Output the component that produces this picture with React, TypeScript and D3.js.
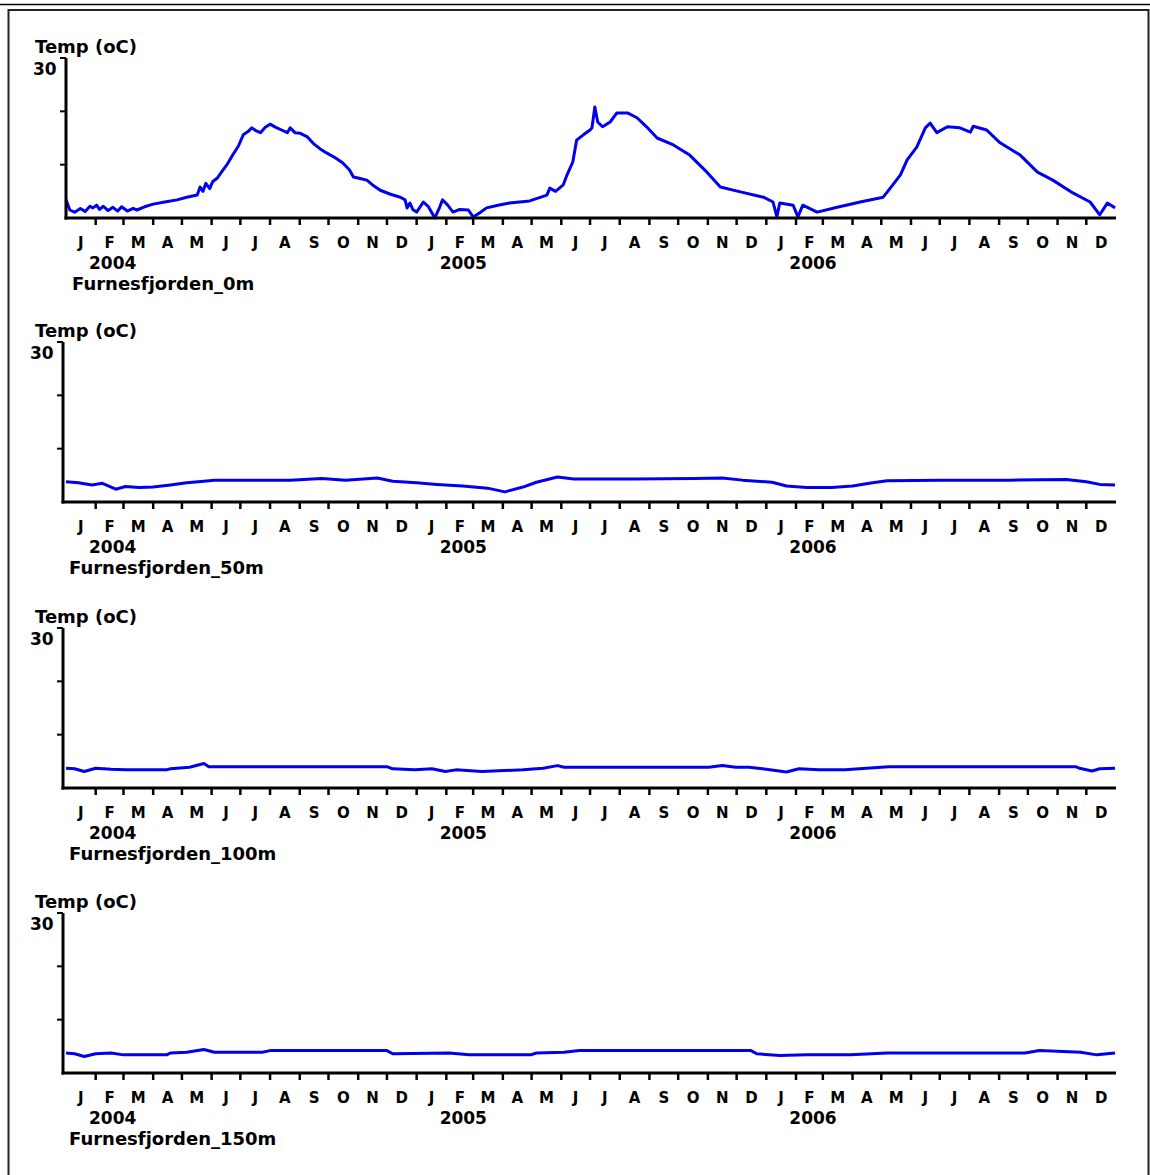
import React from "react";
import * as d3 from "d3";

// ---------- data ----------
const MONTH_LETTERS = ["J", "F", "M", "A", "M", "J", "J", "A", "S", "O", "N", "D"];
const YEARS = ["2004", "2005", "2006"];
const Y_TICKS = [0, 10, 20, 30];
const Y_LABEL = "Temp (oC)";
const STATIONS = ["Furnesfjorden_0m", "Furnesfjorden_50m", "Furnesfjorden_100m", "Furnesfjorden_150m"];

const DATES_0M = [
  "2004-01-01", "2004-01-05", "2004-01-10", "2004-01-16", "2004-01-21", "2004-01-26", "2004-01-29",
  "2004-02-02", "2004-02-05", "2004-02-09", "2004-02-14", "2004-02-19", "2004-02-24", "2004-02-28",
  "2004-03-05", "2004-03-11", "2004-03-15", "2004-03-23", "2004-04-01", "2004-04-13", "2004-04-26",
  "2004-05-06", "2004-05-17", "2004-05-20", "2004-05-23", "2004-05-26", "2004-05-30", "2004-06-02",
  "2004-06-07", "2004-06-12", "2004-06-17", "2004-06-23", "2004-06-29", "2004-07-04", "2004-07-09",
  "2004-07-13", "2004-07-17", "2004-07-22", "2004-07-27", "2004-08-01", "2004-08-07", "2004-08-13",
  "2004-08-19", "2004-08-22", "2004-08-27", "2004-09-01", "2004-09-09", "2004-09-15", "2004-09-22",
  "2004-09-29", "2004-10-08", "2004-10-16", "2004-10-23", "2004-10-27", "2004-11-03", "2004-11-10",
  "2004-11-16", "2004-11-24", "2004-12-04", "2004-12-15", "2004-12-20", "2004-12-22", "2004-12-25",
  "2004-12-28", "2005-01-01", "2005-01-08", "2005-01-13", "2005-01-20", "2005-01-25", "2005-01-28",
  "2005-02-02", "2005-02-08", "2005-02-15", "2005-02-24", "2005-03-01", "2005-03-08", "2005-03-15",
  "2005-03-27", "2005-04-08", "2005-04-29", "2005-05-17", "2005-05-20", "2005-05-26", "2005-06-03",
  "2005-06-07", "2005-06-13", "2005-06-17", "2005-06-24", "2005-07-01", "2005-07-03", "2005-07-06",
  "2005-07-09", "2005-07-14", "2005-07-22", "2005-07-29", "2005-08-09", "2005-08-19", "2005-08-29",
  "2005-09-09", "2005-09-26", "2005-10-13", "2005-10-31", "2005-11-14", "2005-12-05", "2005-12-29",
  "2006-01-08", "2006-01-12", "2006-01-15", "2006-01-29", "2006-02-03", "2006-02-08", "2006-02-23",
  "2006-03-16", "2006-04-09", "2006-05-03", "2006-05-13", "2006-05-21", "2006-05-28", "2006-06-07",
  "2006-06-16", "2006-06-21", "2006-06-28", "2006-07-09", "2006-07-22", "2006-08-02", "2006-08-05",
  "2006-08-19", "2006-09-02", "2006-09-23", "2006-10-11", "2006-10-27", "2006-11-17", "2006-12-05",
  "2006-12-15", "2006-12-23", "2006-12-31",
];
const TEMP_0M = [
  3.4, 1.5, 1.1, 1.8, 1.2, 2.2, 1.9,
  2.4, 1.6, 2.2, 1.4, 2.0, 1.3, 2.1,
  1.3, 1.8, 1.5, 2.1, 2.6, 3.0, 3.4,
  3.9, 4.3, 5.8, 5.0, 6.5, 5.5, 6.8,
  7.5, 8.8, 10.0, 11.8, 13.5, 15.6, 16.2,
  16.9, 16.4, 16.0, 17.0, 17.6, 17.0, 16.5,
  16.0, 16.9, 16.0, 15.9, 15.2, 14.0, 13.0,
  12.2, 11.3, 10.3, 9.0, 7.7, 7.4, 7.1,
  6.2, 5.2, 4.5, 3.9, 3.4, 1.9, 2.8,
  1.6, 1.1, 3.0, 2.2, 0.0, 2.0, 3.4,
  2.5, 1.1, 1.6, 1.5, 0.2, 1.0, 1.9,
  2.4, 2.8, 3.2, 4.3, 5.6, 5.0, 6.2,
  8.1, 10.5, 14.6, 15.6, 16.5, 16.9, 20.8,
  18.0, 17.1, 18.0, 19.7, 19.7, 18.8, 17.1,
  15.0, 13.7, 11.8, 8.6, 5.8, 4.9, 3.9,
  3.0, 0.2, 2.8, 2.4, 0.2, 2.4, 1.1,
  2.0, 3.0, 3.9, 6.2, 8.1, 10.9, 13.3,
  16.9, 17.8, 16.0, 17.1, 16.9, 16.1, 17.2,
  16.5, 14.1, 11.8, 8.6, 7.1, 4.7, 3.0,
  0.6, 2.8, 1.9,
];

const DATES_50M = [
  "2004-01-01", "2004-01-14", "2004-01-28", "2004-02-08", "2004-02-22", "2004-03-03", "2004-03-17",
  "2004-04-01", "2004-04-19", "2004-05-06", "2004-05-24", "2004-06-04", "2004-07-16", "2004-08-22",
  "2004-09-24", "2004-10-19", "2004-11-21", "2004-12-07", "2005-01-01", "2005-01-22", "2005-02-18",
  "2005-03-16", "2005-04-03", "2005-04-22", "2005-05-06", "2005-05-28", "2005-06-14", "2005-08-16",
  "2005-10-18", "2005-11-16", "2005-12-07", "2006-01-07", "2006-01-22", "2006-02-12", "2006-03-10",
  "2006-04-01", "2006-04-22", "2006-05-07", "2006-07-04", "2006-09-13", "2006-11-10", "2006-12-01",
  "2006-12-15", "2006-12-31",
];
const TEMP_50M = [
  3.8, 3.6, 3.2, 3.5, 2.4, 2.9, 2.7,
  2.8, 3.2, 3.6, 3.9, 4.1, 4.1, 4.1,
  4.4, 4.1, 4.5, 3.9, 3.6, 3.3, 3.0,
  2.6, 1.9, 2.8, 3.7, 4.7, 4.3, 4.3,
  4.4, 4.5, 4.1, 3.7, 3.0, 2.7, 2.7,
  3.0, 3.6, 4.0, 4.1, 4.1, 4.2, 3.8,
  3.3, 3.2,
];

const DATES_100M = [
  "2004-01-01", "2004-01-10", "2004-01-20", "2004-02-01", "2004-02-17", "2004-03-03", "2004-04-15",
  "2004-04-19", "2004-05-09", "2004-05-24", "2004-05-29", "2004-12-01", "2004-12-07", "2004-12-30",
  "2005-01-17", "2005-01-31", "2005-02-11", "2005-03-10", "2005-04-22", "2005-05-13", "2005-05-28",
  "2005-06-04", "2005-11-02", "2005-11-16", "2005-11-30", "2005-12-14", "2005-12-28", "2006-01-22",
  "2006-02-04", "2006-02-25", "2006-03-24", "2006-05-01", "2006-05-09", "2006-11-20", "2006-11-24",
  "2006-12-07", "2006-12-15", "2006-12-31",
];
const TEMP_100M = [
  3.7, 3.6, 3.1, 3.7, 3.5, 3.4, 3.4,
  3.6, 3.9, 4.6, 4.0, 4.0, 3.6, 3.4,
  3.6, 3.1, 3.4, 3.1, 3.4, 3.7, 4.2,
  3.9, 3.9, 4.2, 3.9, 3.9, 3.6, 3.0,
  3.6, 3.4, 3.4, 3.9, 4.0, 4.0, 3.7,
  3.2, 3.6, 3.7,
];

const DATES_150M = [
  "2004-01-01", "2004-01-10", "2004-01-20", "2004-02-01", "2004-02-17", "2004-03-01", "2004-04-15",
  "2004-04-19", "2004-05-06", "2004-05-24", "2004-06-04", "2004-07-24", "2004-08-01", "2004-12-01",
  "2004-12-07", "2005-02-04", "2005-02-25", "2005-04-30", "2005-05-06", "2005-06-04", "2005-06-20",
  "2005-12-16", "2005-12-22", "2006-01-15", "2006-02-12", "2006-03-30", "2006-05-07", "2006-09-28",
  "2006-10-13", "2006-11-25", "2006-12-12", "2006-12-31",
];
const TEMP_150M = [
  3.75, 3.6, 3.1, 3.6, 3.75, 3.4, 3.4,
  3.75, 3.9, 4.4, 3.9, 3.9, 4.2, 4.2,
  3.6, 3.75, 3.4, 3.4, 3.75, 3.9, 4.2,
  4.2, 3.6, 3.3, 3.4, 3.4, 3.75, 3.75,
  4.2, 3.9, 3.4, 3.75,
];

// ---------- layout ----------
const W = 1150;
const H = 1175;
const FONT = "DejaVu Sans, Verdana, sans-serif";
const LINE_COLOR = "#0000ee";
const parse = d3.timeParse("%Y-%m-%d");

const PANELS = [
  { name: STATIONS[0], dates: DATES_0M, temps: TEMP_0M, top: 58, bottom: 218, axisX: 66 },
  { name: STATIONS[1], dates: DATES_50M, temps: TEMP_50M, top: 342, bottom: 502, axisX: 63 },
  { name: STATIONS[2], dates: DATES_100M, temps: TEMP_100M, top: 628, bottom: 788, axisX: 63 },
  { name: STATIONS[3], dates: DATES_150M, temps: TEMP_150M, top: 913, bottom: 1073, axisX: 63 },
];

const x = d3
  .scaleTime()
  .domain([new Date(2004, 0, 1), new Date(2007, 0, 1)])
  .range([66, 1116]);

const months = d3.timeMonth.range(new Date(2004, 0, 1), new Date(2007, 0, 1));
const tickMonths = months.slice(1);

function Panel({ p }: { p: (typeof PANELS)[number] }) {
  const y = d3.scaleLinear().domain([Y_TICKS[0], Y_TICKS[Y_TICKS.length - 1]]).range([p.bottom, p.top]);
  const pts = p.dates.map((d, i) => [parse(d) as Date, p.temps[i]] as [Date, number]);
  const line = d3
    .line<[Date, number]>()
    .x((d) => x(d[0]))
    .y((d) => y(d[1]));
  const xEnd = x.range()[1];
  return (
    <g>
      <text x={35} y={p.top - 5} fontFamily={FONT} fontWeight="bold" fontSize={18}>
        {Y_LABEL}
      </text>
      <text x={p.axisX - 33} y={p.top + 17} fontFamily={FONT} fontWeight="bold" fontSize={17}>
        {Y_TICKS[Y_TICKS.length - 1]}
      </text>
      {/* data line */}
      <path d={line(pts) || ""} fill="none" stroke={LINE_COLOR} strokeWidth={3} strokeLinejoin="round" />
      {/* y axis */}
      <line x1={p.axisX} x2={p.axisX} y1={p.top} y2={p.bottom + 1.5} stroke="#000" strokeWidth={3} />
      {Y_TICKS.slice(1).map((t) => (
        <line key={t} x1={p.axisX - 6} x2={p.axisX} y1={y(t)} y2={y(t)} stroke="#000" strokeWidth={2} />
      ))}
      {/* x axis */}
      <line x1={p.axisX - 1.5} x2={xEnd} y1={p.bottom} y2={p.bottom} stroke="#000" strokeWidth={3} />
      {tickMonths.map((m, i) => (
        <line
          key={i}
          x1={x(m)}
          x2={x(m)}
          y1={p.bottom}
          y2={p.bottom + 7}
          stroke="#000"
          strokeWidth={2.5}
        />
      ))}
      {months.map((m, i) => {
        const next = d3.timeMonth.offset(m, 1);
        return (
          <text
            key={i}
            x={(x(m) + x(next)) / 2}
            y={p.bottom + 29.5}
            textAnchor="middle"
            fontFamily={FONT}
            fontWeight="bold"
            fontSize={15}
          >
            {MONTH_LETTERS[m.getMonth()]}
          </text>
        );
      })}
      {YEARS.map((yr) => (
        <text
          key={yr}
          x={x(new Date(+yr, 0, 1)) + 23}
          y={p.bottom + 51}
          fontFamily={FONT}
          fontWeight="bold"
          fontSize={17}
        >
          {yr}
        </text>
      ))}
      <text x={p.axisX + 6} y={p.bottom + 72} fontFamily={FONT} fontWeight="bold" fontSize={18}>
        {p.name}
      </text>
    </g>
  );
}

export default function App() {
  return (
    <svg
      width={W}
      height={H}
      viewBox={`0 0 ${W} ${H}`}
      style={{ position: "absolute", left: 0, top: 0, background: "#fff" }}
    >
      <rect x={0} y={0} width={W} height={H} fill="#fff" />
      <line x1={0} x2={W} y1={4.5} y2={4.5} stroke="#000" strokeWidth={1.5} />
      <rect x={8.5} y={10} width={W - 10} height={H - 8} fill="none" stroke="#222" strokeWidth={2} />
      {PANELS.map((p) => (
        <Panel key={p.name} p={p} />
      ))}
    </svg>
  );
}
